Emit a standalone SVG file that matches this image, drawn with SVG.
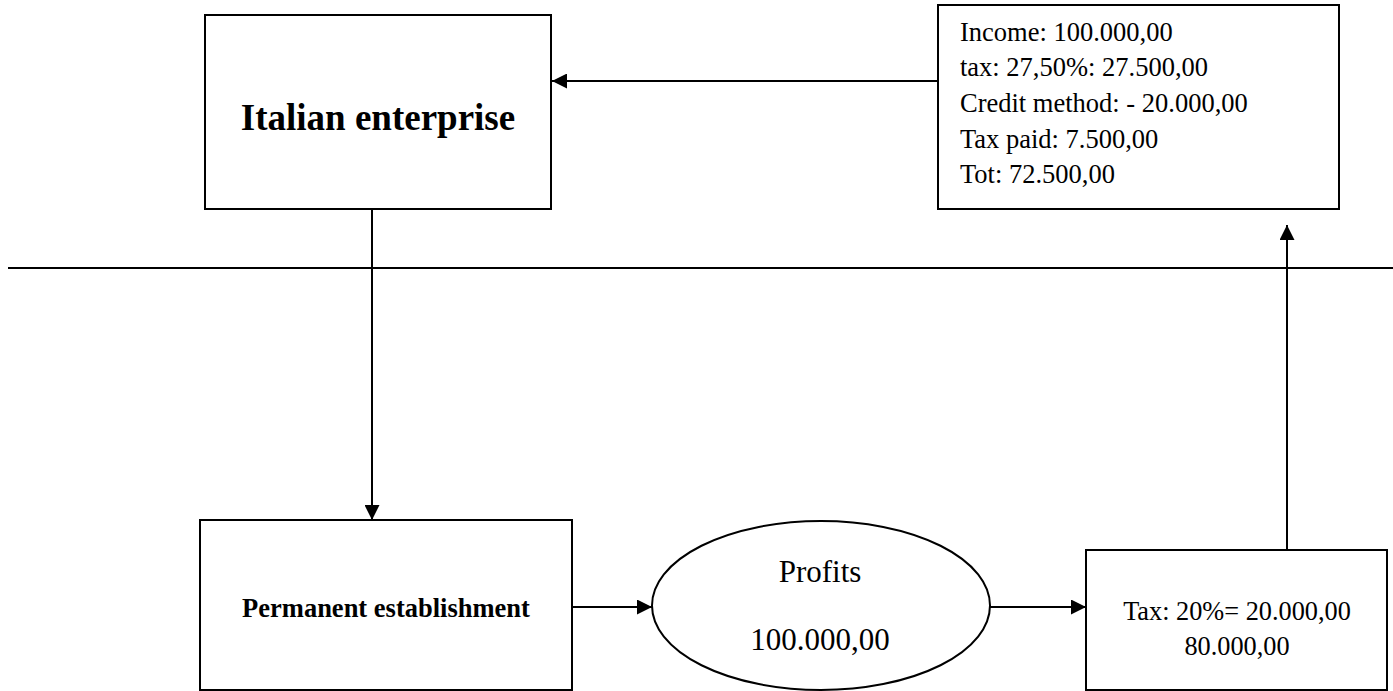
<svg xmlns="http://www.w3.org/2000/svg" width="1393" height="691" viewBox="0 0 1393 691">
<style>
.box{fill:#fff;stroke:#000;stroke-width:2}
.ln{fill:none;stroke:#000;stroke-width:2}
.t{font-family:"Liberation Serif","Times New Roman",serif;fill:#000}
</style>
<defs>
<marker id="ah" viewBox="0 0 10 10" refX="10" refY="5" markerWidth="16" markerHeight="15" markerUnits="userSpaceOnUse" orient="auto">
<path d="M0,0 L10,5 L0,10 z" fill="#000"/>
</marker>
</defs>
<rect width="1393" height="691" fill="#fff"/>
<g id="connectors">
<line class="ln" x1="8" y1="268" x2="1393" y2="268"/>
<line class="ln" x1="938" y1="81" x2="552" y2="81" marker-end="url(#ah)"/>
<line class="ln" x1="372" y1="209" x2="372" y2="520" marker-end="url(#ah)"/>
<line class="ln" x1="572" y1="607" x2="652" y2="607" marker-end="url(#ah)"/>
<line class="ln" x1="990" y1="607" x2="1086" y2="607" marker-end="url(#ah)"/>
<line class="ln" x1="1287" y1="550" x2="1287" y2="225" marker-end="url(#ah)"/>
</g>
<g id="italian-enterprise">
<rect class="box" x="205" y="15" width="346" height="194"/>
<text class="t" x="378" y="130" font-size="37" font-weight="bold" text-anchor="middle">Italian enterprise</text>
</g>
<g id="income-box">
<rect class="box" x="938" y="5" width="401" height="204"/>
<text class="t" font-size="26.5">
<tspan x="960" y="41">Income: 100.000,00</tspan>
<tspan x="960" y="76">tax: 27,50%: 27.500,00</tspan>
<tspan x="960" y="112">Credit method: - 20.000,00</tspan>
<tspan x="960" y="148">Tax paid: 7.500,00</tspan>
<tspan x="960" y="183">Tot: 72.500,00</tspan>
</text>
</g>
<g id="permanent-establishment">
<rect class="box" x="200" y="520" width="372" height="170"/>
<text class="t" x="386" y="617" font-size="26.5" font-weight="bold" text-anchor="middle">Permanent establishment</text>
</g>
<g id="profits">
<ellipse class="box" cx="821" cy="605.5" rx="169" ry="84.5"/>
<text class="t" x="820" y="582" font-size="31" text-anchor="middle">Profits</text>
<text class="t" x="820" y="650" font-size="31" text-anchor="middle">100.000,00</text>
</g>
<g id="tax-box">
<rect class="box" x="1086" y="550" width="301" height="140"/>
<text class="t" x="1237" y="620" font-size="26.3" text-anchor="middle">Tax: 20%= 20.000,00</text>
<text class="t" x="1237" y="655" font-size="26.3" text-anchor="middle">80.000,00</text>
</g>
</svg>
